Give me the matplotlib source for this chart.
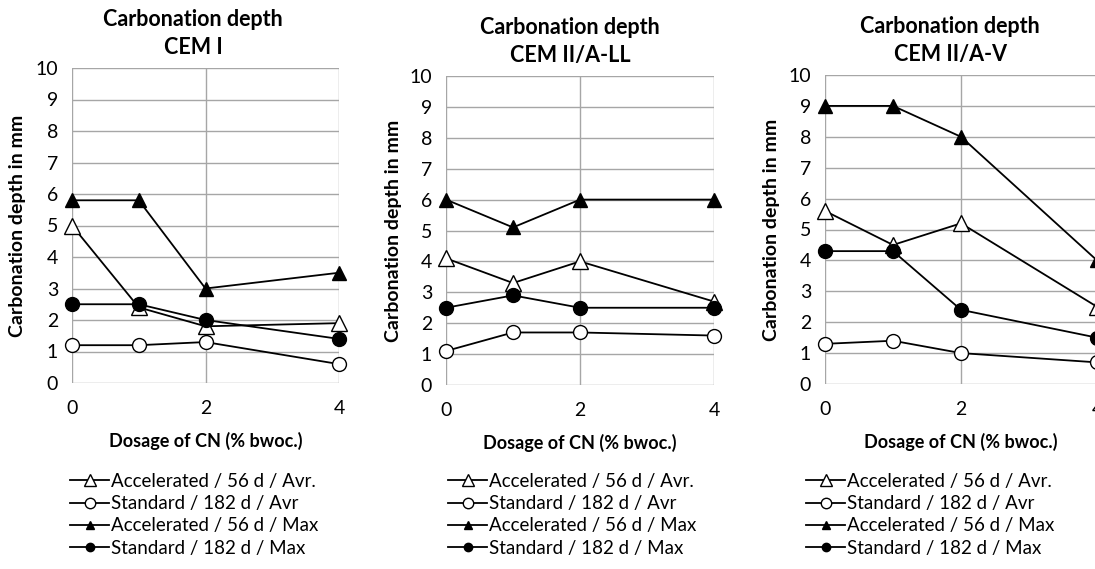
import matplotlib
matplotlib.use('Agg')
from matplotlib import pyplot as plt
from matplotlib.lines import Line2D

plt.rcParams['font.family'] = ['Lato', 'DejaVu Sans']

dosage = [0, 1, 2, 4]
titles = ['Carbonation depth\nCEM I', 'Carbonation depth\nCEM II/A-LL', 'Carbonation depth\nCEM II/A-V']
series_names = ['Accelerated / 56 d / Avr.', 'Standard / 182 d / Avr',
                'Accelerated / 56 d / Max', 'Standard / 182 d / Max']

# CEM I
cem1_acc_avr = [5.0, 2.4, 1.8, 1.9]
cem1_std_avr = [1.2, 1.2, 1.3, 0.6]
cem1_acc_max = [5.8, 5.8, 3.0, 3.5]
cem1_std_max = [2.5, 2.5, 2.0, 1.4]
# CEM II/A-LL
ll_acc_avr = [4.1, 3.3, 4.0, 2.7]
ll_std_avr = [1.1, 1.7, 1.7, 1.6]
ll_acc_max = [6.0, 5.1, 6.0, 6.0]
ll_std_max = [2.5, 2.9, 2.5, 2.5]
# CEM II/A-V
v_acc_avr = [5.6, 4.5, 5.2, 2.5]
v_std_avr = [1.3, 1.4, 1.0, 0.7]
v_acc_max = [9.0, 9.0, 8.0, 4.0]
v_std_max = [4.3, 4.3, 2.4, 1.5]

panels = [
    [cem1_acc_avr, cem1_std_avr, cem1_acc_max, cem1_std_max],
    [ll_acc_avr, ll_std_avr, ll_acc_max, ll_std_max],
    [v_acc_avr, v_std_avr, v_acc_max, v_std_max],
]

W, H = 1095, 569
fig = plt.figure(figsize=(W / 100, H / 100), dpi=100)

# axes boxes in pixels: left, right, top, bottom
boxes = [(72, 339, 68, 383), (446, 714, 76, 385), (825, 1097, 75, 384)]
ylab_x = [18, 393, 772]
title_x = [193, 570, 950]
legend_x = [70, 448, 806]

styles = [
    dict(marker='^', ms=11, mfc='white', mec='black'),
    dict(marker='o', ms=10, mfc='white', mec='black'),
    dict(marker='^', ms=10, mfc='black', mec='black'),
    dict(marker='o', ms=10, mfc='black', mec='black'),
]

for i, (l, r, t, b) in enumerate(boxes):
    ax = fig.add_axes([l / W, 1 - b / H, (r - l) / W, (b - t) / H])
    for vals, st in zip(panels[i], styles):
        ax.plot(dosage, vals, color='black', lw=1.3, clip_on=False, **st)
    ax.set_xlim(0, 4)
    ax.set_ylim(0, 10)
    ax.set_xticks([0, 2, 4])
    ax.set_yticks(range(0, 11))
    ax.grid(True, color='#a6a6a6', lw=1)
    ax.set_axisbelow(True)
    for s in ax.spines.values():
        s.set_visible(False)
    ax.tick_params(length=0, labelsize=14)
    ax.tick_params(axis='x', pad=12)
    ax.tick_params(axis='y', pad=10)
    ax.set_xlabel('Dosage of CN (% bwoc.)', fontsize=13, fontweight='bold', labelpad=11)
    fig.text(ylab_x[i] / W, 1 - (t + b) / 2 / H, 'Carbonation depth in mm', rotation=90,
             fontsize=14, fontweight='bold', ha='center', va='center')
    fig.text(title_x[i] / W, 1 - (t - 10) / H, titles[i], fontsize=15.5, fontweight='bold',
             ha='center', va='bottom', linespacing=1.4)
    handles = [Line2D([], [], color='black', lw=1.3,
                      **dict(st, ms=st['ms'] * (0.75 if st['mfc'] == 'white' else 0.6)))
               for st in styles]
    fig.legend(handles, series_names, loc='upper left',
               bbox_to_anchor=(legend_x[i] / W, 1 - 473 / H), frameon=False,
               fontsize=13.5, handlelength=2.1, handletextpad=0.1, labelspacing=0.28,
               borderaxespad=0, borderpad=0)

fig.savefig('out.png', dpi=100)
